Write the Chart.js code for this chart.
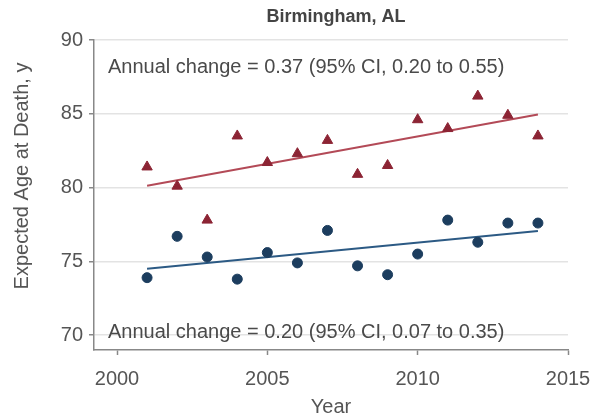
<!DOCTYPE html>
<html><head><meta charset="utf-8">
<script src="https://cdn.jsdelivr.net/npm/chart.js@4/dist/chart.umd.min.js"></script>
<style>html,body{margin:0;padding:0;background:#fff}#wrap{width:595px;height:419px;position:relative}</style>
</head><body><div id="wrap"><canvas id="c" width="595" height="419"></canvas></div>
<script>
const years = [2001,2002,2003,2004,2005,2006,2007,2008,2009,2010,2011,2012,2013,2014];
const groupA = [81.4,80.1,77.8,83.5,81.7,82.3,83.2,80.9,81.5,84.6,84.0,86.2,84.9,83.5];
const groupB = [73.9,76.7,75.3,73.8,75.6,74.9,77.1,74.7,74.1,75.5,77.8,76.3,77.6,77.6];
const trendYears = [2001,2014];
const trendA = [80.13,84.95];
const trendB = [74.50,77.06];
const xTicks = [2000,2005,2010,2015];
const yTicks = [70,75,80,85,90];
const chartTitle = 'Birmingham, AL';
const xTitle = 'Year';
const yTitle = 'Expected Age at Death, y';
const noteA = 'Annual change = 0.37 (95% CI, 0.20 to 0.55)';
const noteB = 'Annual change = 0.20 (95% CI, 0.07 to 0.35)';

const FONT = "'Liberation Sans', Arial, sans-serif";
Chart.defaults.font.family = FONT;
const TXT = '#555';

const pts = (xs, ys) => xs.map((x, i) => ({x: x, y: ys[i]}));

const textPlugin = {
  id: 'texts',
  afterDraw(chart) {
    const ctx = chart.ctx, a = chart.chartArea;
    ctx.save();
    ctx.font = 'bold 18px ' + FONT;
    ctx.textAlign = 'center';
    ctx.textBaseline = 'alphabetic';
    ctx.fillStyle = '#444';
    ctx.fillText(chartTitle, (a.left + a.right) / 2 + 5, 22);
    ctx.fillStyle = '#4a4a4a';
    ctx.font = '20px ' + FONT;
    ctx.textAlign = 'left';
    ctx.fillText(noteA, a.left + 14, a.top + 33);
    ctx.fillText(noteB, a.left + 14, a.bottom - 12);
    ctx.fillStyle = TXT;
    ctx.translate(22, 176);
    ctx.rotate(-Math.PI / 2);
    ctx.textAlign = 'center';
    ctx.textBaseline = 'middle';
    ctx.fillText(yTitle, 0, 0);
    ctx.restore();
  }
};

new Chart(document.getElementById('c'), {
  type: 'scatter',
  data: {
    datasets: [
      {data: pts(years, groupA), pointStyle: 'triangle', pointRadius: 6, backgroundColor: '#8c2434', borderColor: '#8c2434', borderWidth: 1, order: 1},
      {data: pts(years, groupB), pointStyle: 'circle', pointRadius: 5, backgroundColor: '#1c3d5e', borderColor: '#1c3d5e', borderWidth: 1, order: 1},
      {type: 'line', data: pts(trendYears, trendA), showLine: true, borderColor: '#b34a57', borderWidth: 2, pointRadius: 0, fill: false, order: 2},
      {type: 'line', data: pts(trendYears, trendB), showLine: true, borderColor: '#2c5a84', borderWidth: 2, pointRadius: 0, fill: false, order: 2}
    ]
  },
  options: {
    responsive: false, animation: false, devicePixelRatio: 1,
    layout: {padding: {top: 40, right: 27, left: 0, bottom: 0}},
    plugins: {legend: {display: false}, tooltip: {enabled: false}, title: {display: false}},
    scales: {
      x: {
        type: 'linear', min: 1999.235, max: 2015,
        afterBuildTicks: s => { s.ticks = xTicks.map(v => ({value: v})); },
        afterFit: s => { s.height = 69; s.paddingLeft = 0; s.paddingRight = 0; },
        ticks: {font: {size: 20}, color: TXT, padding: 12, callback: v => String(v), autoSkip: false, maxRotation: 0},
        grid: {drawOnChartArea: false, drawTicks: true, tickLength: 5, tickColor: '#888', tickWidth: 1.5},
        border: {color: '#888', width: 1.5},
        title: {display: true, text: xTitle, font: {size: 20}, color: TXT, padding: {top: 0, bottom: 0}}
      },
      y: {
        min: 69, max: 90,
        afterBuildTicks: s => { s.ticks = yTicks.map(v => ({value: v})); },
        afterFit: s => { s.width = 94; s.paddingTop = 0; s.paddingBottom = 0; },
        ticks: {font: {size: 20}, color: TXT, padding: 6},
        grid: {color: '#e3e3e3', lineWidth: 1.5, drawTicks: true, tickLength: 5, tickColor: '#888', tickWidth: 1.5},
        border: {color: '#888', width: 1.5}
      }
    }
  },
  plugins: [textPlugin]
});
</script></body></html>
